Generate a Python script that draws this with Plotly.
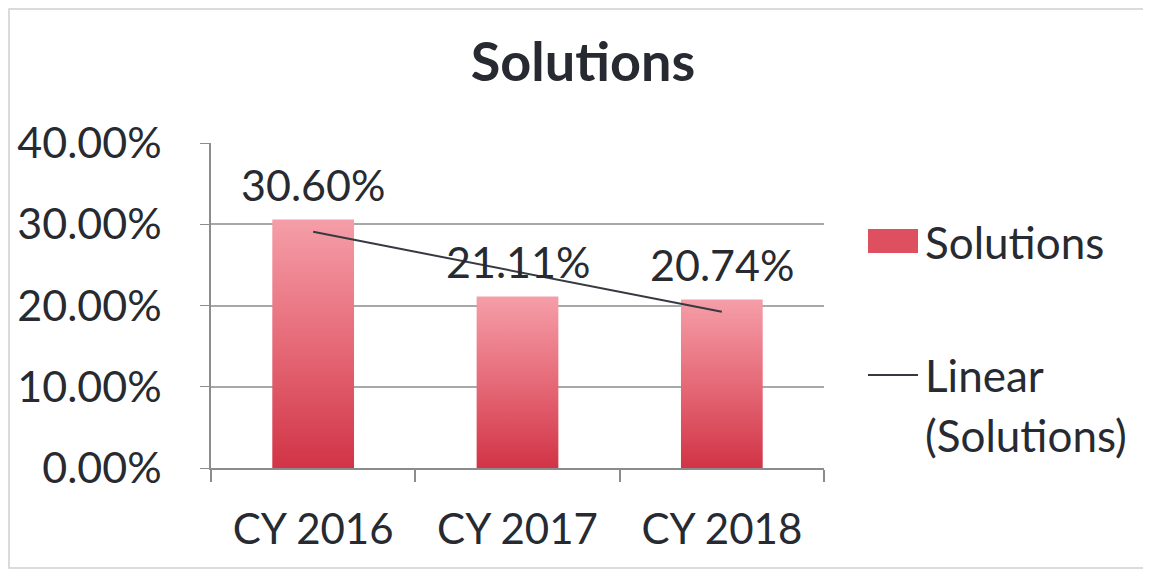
import numpy as np
import plotly.graph_objects as go

# data
categories = ["CY 2016", "CY 2017", "CY 2018"]
solutions = [0.3060, 0.2111, 0.2074]
y_ticks = [0, 0.10, 0.20, 0.30, 0.40]

FONT = "Lato"
TXT = "#272b31"
OFF = 8  # the page body has an 8px margin, so the figure is placed 8px in
W, H = 1151 - OFF, 571 - OFF
L, T = 211 - OFF, 143 - OFF
R, B = W - (824 - OFF), H - (468 - OFF)
pw, ph = W - L - R, H - T - B


def px(sx):
    # screen x -> paper x
    return (sx - OFF - L) / pw


def py(sy):
    # screen y -> paper y
    return (T + ph - (sy - OFF)) / ph


xs = np.arange(len(categories))
half = 0.2  # half bar width in category units

fig = go.Figure()

# bars as filled polygons so they can carry a vertical gradient like Excel
for i, v in enumerate(solutions):
    fig.add_trace(go.Scatter(
        x=[xs[i] - half, xs[i] - half, xs[i] + half, xs[i] + half, xs[i] - half],
        y=[0, v, v, 0, 0],
        mode="lines", line=dict(width=0, color="#e05a68"),
        fill="toself",
        fillgradient=dict(type="vertical",
                          colorscale=[[0, "#d13446"], [0.5, "#e66a78"], [1, "#f59ea8"]]),
        showlegend=False, hoverinfo="skip",
    ))

# linear trendline
slope, icpt = np.polyfit(xs, solutions, 1)
fig.add_trace(go.Scatter(
    x=xs, y=slope * xs + icpt, mode="lines",
    line=dict(color="#363a40", width=2),
    showlegend=False, hoverinfo="skip",
))

# data labels
for x, v in zip(xs, solutions):
    fig.add_annotation(x=x, y=v, text=f"{v:.2%}", showarrow=False,
                       yanchor="middle", yshift=35,
                       font=dict(family=FONT, size=43, color=TXT))

# legend, laid out like the Excel one
fig.add_shape(type="rect", xref="paper", yref="paper",
              x0=px(868), x1=px(918), y0=py(253), y1=py(229),
              fillcolor="#de4f60", line=dict(width=0))
fig.add_shape(type="line", xref="paper", yref="paper",
              x0=px(868), x1=px(918), y0=py(375), y1=py(375),
              line=dict(color="#363a40", width=2))
for sy, txt in [(242, "Solutions"), (375, "Linear"), (435, "(Solutions)")]:
    fig.add_annotation(xref="paper", yref="paper", x=px(923), y=py(sy),
                       xanchor="left", yanchor="middle", text=txt, showarrow=False,
                       font=dict(family=FONT, size=44, color=TXT))

# thin chart-area frame
fig.add_shape(type="rect", xref="paper", yref="paper",
              x0=px(9), x1=px(1149), y0=py(568), y1=py(9),
              line=dict(color="#cfcfcf", width=1.5), layer="below")

fig.update_layout(
    width=W, height=H,
    margin=dict(l=L, r=R, t=T, b=B, autoexpand=False),
    paper_bgcolor="white", plot_bgcolor="white",
    title=dict(text="<b>Solutions</b>", x=(583 - OFF) / W, xanchor="center",
               y=1 - (62 - OFF) / H, yanchor="middle",
               font=dict(family=FONT, size=54, color=TXT)),
    font=dict(family=FONT, color=TXT),
    showlegend=False,
    xaxis=dict(range=[-0.5, 2.5], tickmode="array", tickvals=xs, ticktext=categories,
               ticks="", showgrid=False, zeroline=False,
               showline=True, linecolor="#8c8c8c", linewidth=1.5,
               ticklabelstandoff=24,
               tickfont=dict(family=FONT, size=42, color=TXT),
               minor=dict(tickmode="array", tickvals=[-0.5, 0.5, 1.5, 2.5],
                          ticks="outside", ticklen=12, tickcolor="#8c8c8c", tickwidth=1.5,
                          showgrid=False),
               fixedrange=True),
    yaxis=dict(range=[0, 0.40], tickmode="array", tickvals=y_ticks, tickformat=".2%",
               ticks="outside", ticklen=9, tickcolor="#8c8c8c",
               showgrid=True, gridcolor="#a8a8a8", gridwidth=1.5,
               zeroline=False, showline=True, linecolor="#8c8c8c", linewidth=1.5,
               ticklabelstandoff=30,
               tickfont=dict(family=FONT, size=43, color=TXT),
               fixedrange=True),
)

fig.write_html("out.html")
